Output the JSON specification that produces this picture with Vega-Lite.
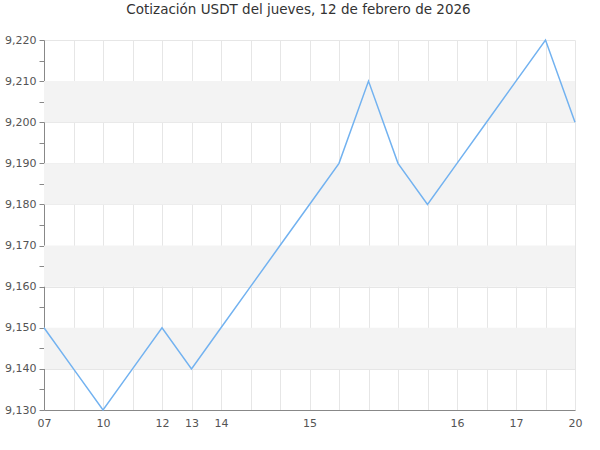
{
  "$schema": "https://vega.github.io/schema/vega-lite/v6.json",
  "width": 531,
  "height": 370,
  "autosize": "none",
  "padding": {"left": 44, "top": 40, "right": 25, "bottom": 40},
  "title": {
    "text": "Cotización USDT del jueves, 12 de febrero de 2026",
    "font": "DejaVu Sans",
    "fontSize": 13.5,
    "fontWeight": "normal",
    "color": "#333333",
    "offset": 18,
    "dx": -11
  },
  "config": {
    "view": {"stroke": null},
    "axis": {"labelFont": "DejaVu Sans", "labelFontSize": 11, "labelColor": "#545454", "domainColor": "#888888", "tickColor": "#888888"}
  },
  "datasets": {
    "bands": [
      {"y": 9140, "y2": 9150},
      {"y": 9160, "y2": 9170},
      {"y": 9180, "y2": 9190},
      {"y": 9200, "y2": 9210}
    ],
    "prices": [
      {"hora": "07:00", "precio": 9150},
      {"hora": "07:30", "precio": 9140},
      {"hora": "10:00", "precio": 9130},
      {"hora": "10:30", "precio": 9140},
      {"hora": "12:00", "precio": 9150},
      {"hora": "13:00", "precio": 9140},
      {"hora": "14:00", "precio": 9150},
      {"hora": "14:20", "precio": 9160},
      {"hora": "14:40", "precio": 9170},
      {"hora": "15:00", "precio": 9180},
      {"hora": "15:12", "precio": 9190},
      {"hora": "15:24", "precio": 9210},
      {"hora": "15:36", "precio": 9190},
      {"hora": "15:48", "precio": 9180},
      {"hora": "16:00", "precio": 9190},
      {"hora": "16:30", "precio": 9200},
      {"hora": "17:00", "precio": 9210},
      {"hora": "17:30", "precio": 9220},
      {"hora": "20:00", "precio": 9200}
    ]
  },
  "layer": [
    {
      "data": {"name": "bands"},
      "mark": {"type": "rect", "color": "#f3f3f3"},
      "encoding": {
        "y": {
          "field": "y", "type": "quantitative",
          "scale": {"domain": [9130, 9220], "nice": false, "zero": false},
          "axis": {
            "title": null,
            "values": [9130, 9135, 9140, 9145, 9150, 9155, 9160, 9165, 9170, 9175, 9180, 9185, 9190, 9195, 9200, 9205, 9210, 9215, 9220],
            "labelExpr": "datum.value % 10 == 0 ? format(datum.value, ',.0f') : ''",
            "tickSize": 5, "labelPadding": 3,
            "grid": true, "gridColor": "#e6e6e6",
            "gridOpacity": {"condition": {"test": "datum.value % 10 == 0", "value": 1}, "value": 0}
          }
        },
        "y2": {"field": "y2"}
      }
    },
    {
      "data": {"name": "prices"},
      "mark": {"type": "line", "color": "#72b2f0", "strokeWidth": 1.5},
      "encoding": {
        "x": {
          "field": "hora", "type": "ordinal", "sort": null,
          "scale": {"type": "point", "padding": 0},
          "axis": {
            "title": null, "labelAngle": 0, "ticks": false, "labelPadding": 7,
            "grid": true, "gridColor": "#e6e6e6",
            "labelExpr": "slice(datum.value, 3) == '00' ? slice(datum.value, 0, 2) : ''"
          }
        },
        "y": {
          "field": "precio", "type": "quantitative",
          "scale": {"domain": [9130, 9220], "nice": false, "zero": false},
          "axis": {
            "title": null,
            "values": [9130, 9135, 9140, 9145, 9150, 9155, 9160, 9165, 9170, 9175, 9180, 9185, 9190, 9195, 9200, 9205, 9210, 9215, 9220],
            "labelExpr": "datum.value % 10 == 0 ? format(datum.value, ',.0f') : ''",
            "tickSize": 5, "labelPadding": 3,
            "grid": true, "gridColor": "#e6e6e6",
            "gridOpacity": {"condition": {"test": "datum.value % 10 == 0", "value": 1}, "value": 0}
          }
        }
      }
    }
  ]
}
